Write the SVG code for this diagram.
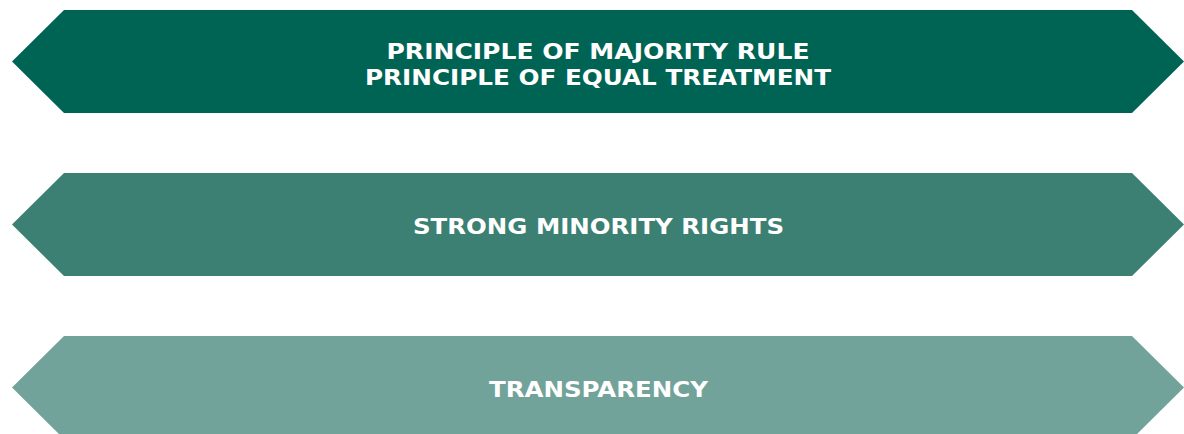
<svg xmlns="http://www.w3.org/2000/svg" width="1184" height="434" viewBox="0 0 1184 434">
  <style>
    .band { stroke: none; }
    .label { font-family: "DejaVu Sans", "Liberation Sans", sans-serif; font-weight: bold; font-size: 21.5px; fill: #ffffff; text-anchor: middle; }
  </style>
  <rect width="1184" height="434" fill="#ffffff"/>
  <g id="majority-rule">
    <polygon class="band" fill="#006455" points="12,61.5 64,10 1132,10 1184,61.5 1132,113 64,113"/>
    <text class="label" x="598" y="58.5" textLength="423" lengthAdjust="spacingAndGlyphs">PRINCIPLE OF MAJORITY RULE</text>
    <text class="label" x="598" y="84.5" textLength="466" lengthAdjust="spacingAndGlyphs">PRINCIPLE OF EQUAL TREATMENT</text>
  </g>
  <g id="minority-rights">
    <polygon class="band" fill="#3b8073" points="12,224.5 64,173 1132,173 1184,224.5 1132,276 64,276"/>
    <text class="label" x="598.5" y="233.5" textLength="371" lengthAdjust="spacingAndGlyphs">STRONG MINORITY RIGHTS</text>
  </g>
  <g id="transparency">
    <polygon class="band" fill="#72a39a" points="12,387.5 64,336 1132,336 1184,387.5 1132,439 64,439"/>
    <text class="label" x="598.5" y="396.5" textLength="219" lengthAdjust="spacingAndGlyphs">TRANSPARENCY</text>
  </g>
  <g id="connectors"/>
</svg>
